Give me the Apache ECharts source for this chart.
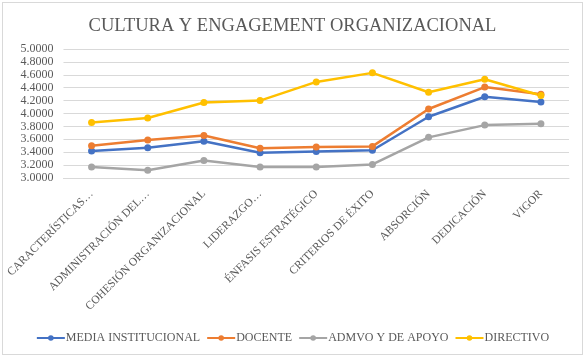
<!DOCTYPE html>
<html>
<head>
<meta charset="utf-8">
<script src="https://cdn.jsdelivr.net/npm/echarts@6/dist/echarts.min.js"></script>
<style>
  html, body { margin: 0; padding: 0; background: #fff; }
  #chart { position: absolute; left: 2px; top: 2px; width: 581px; height: 353px; border: 1px solid #d9d9d9; box-sizing: border-box; }
</style>
</head>
<body>
<div id="chart"></div>
<script>
const categories = ['CARACTERÍSTICAS…', 'ADMINISTRACIÓN DEL…', 'COHESIÓN ORGANIZACIONAL', 'LIDERAZGO…', 'ÉNFASIS ESTRATÉGICO', 'CRITERIOS DE ÉXITO', 'ABSORCIÓN', 'DEDICACIÓN', 'VIGOR'];
const mediaInstitucional = [3.42, 3.47, 3.57, 3.39, 3.41, 3.43, 3.95, 4.26, 4.18];
const docente = [3.50, 3.59, 3.66, 3.46, 3.48, 3.49, 4.07, 4.41, 4.30];
const admvoApoyo = [3.17, 3.12, 3.27, 3.17, 3.17, 3.21, 3.63, 3.82, 3.84];
const directivo = [3.86, 3.93, 4.17, 4.20, 4.49, 4.63, 4.33, 4.53, 4.28];

const font = 'Liberation Serif';
const textColor = '#595959';

const chart = echarts.init(document.getElementById('chart'));

function line(name, data, color) {
    return {
        name: name,
        type: 'line',
        data: data,
        symbol: 'circle',
        symbolSize: 7,
        lineStyle: { width: 2.5, color: color },
        itemStyle: { color: color },
        emphasis: { disabled: true }
    };
}

chart.setOption({
    animation: false,
    title: {
        text: 'CULTURA Y ENGAGEMENT ORGANIZACIONAL',
        left: 'center',
        top: 9,
        textStyle: { fontFamily: font, fontSize: 18.5, fontWeight: 'normal', color: textColor }
    },
    grid: { left: 60, right: 13, top: 46, bottom: 176, containLabel: false },
    xAxis: {
        type: 'category',
        data: categories,
        boundaryGap: true,
        axisLine: { lineStyle: { color: '#d9d9d9', width: 1 } },
        axisTick: { show: false },
        axisLabel: {
            interval: 0,
            rotate: 45,
            margin: 14,
            fontFamily: font,
            fontSize: 11.5,
            color: textColor
        }
    },
    yAxis: {
        type: 'value',
        min: 3,
        max: 5,
        interval: 0.2,
        axisLine: { show: false },
        axisTick: { show: false },
        splitLine: { lineStyle: { color: '#d9d9d9', width: 1 } },
        axisLabel: {
            margin: 10,
            fontFamily: font,
            fontSize: 12,
            color: textColor,
            formatter: v => v.toFixed(4)
        }
    },
    legend: {
        bottom: 5,
        left: 'center',
        itemWidth: 28,
        itemHeight: 7,
        itemGap: 6,
        textStyle: { fontFamily: font, fontSize: 12, color: textColor, padding: [0, 0, 0, -4] },
        data: ['MEDIA INSTITUCIONAL', 'DOCENTE', 'ADMVO Y DE APOYO', 'DIRECTIVO']
    },
    series: [
        line('MEDIA INSTITUCIONAL', mediaInstitucional, '#4472C4'),
        line('DOCENTE', docente, '#ED7D31'),
        line('ADMVO Y DE APOYO', admvoApoyo, '#A5A5A5'),
        line('DIRECTIVO', directivo, '#FFC000')
    ]
});
</script>
</body>
</html>
